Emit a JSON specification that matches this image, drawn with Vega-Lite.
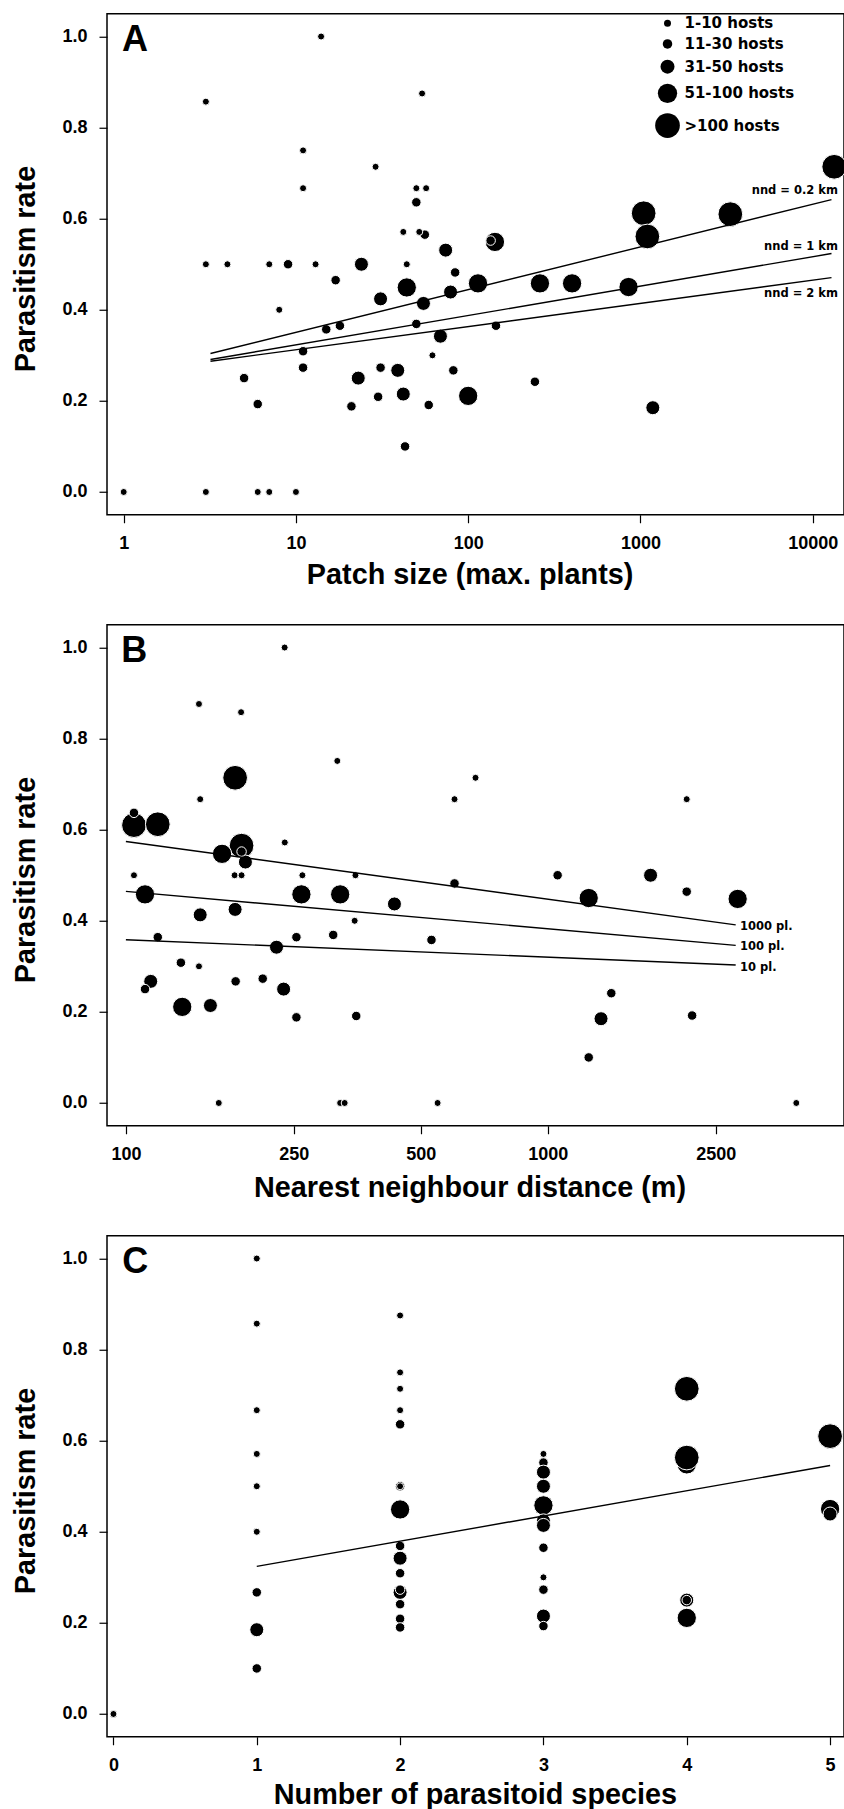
{
  "$schema": "https://vega.github.io/schema/vega-lite/v6.json",
  "background": "white",
  "padding": {"left": 10, "top": 12.75, "right": 0, "bottom": 0},
  "spacing": 110,
  "bounds": "flush",
  "config": {
    "view": {"stroke": "black", "strokeWidth": 1.5},
    "axis": {
      "domain": false, "grid": false,
      "tickColor": "black", "tickSize": 8, "tickWidth": 1.2,
      "labelFont": "Liberation Sans", "labelFontWeight": "bold", "labelFontSize": 18, "labelColor": "black", "labelPadding": 12,
      "labelOverlap": false, "labelFlush": false,
      "titleFont": "Liberation Sans", "titleFontWeight": "bold", "titleFontSize": 28.8, "titleColor": "black"
    },
    "text": {"font": "Liberation Sans", "color": "black"}
  },
  "resolve": {
    "scale": {"x": "independent", "y": "independent", "size": "independent"},
    "axis": {"x": "independent", "y": "independent"},
    "legend": {"size": "independent"}
  },
  "vconcat": [
    {
      "width": 737, "height": 501,
      "layer": [
        {
          "data": {"values": [
            {"patch": 1044, "rate": 0.612, "hosts": ">100 hosts"},
            {"patch": 1097, "rate": 0.561, "hosts": ">100 hosts"},
            {"patch": 3326, "rate": 0.61, "hosts": ">100 hosts"},
            {"patch": 13335, "rate": 0.714, "hosts": ">100 hosts"},
            {"patch": 44, "rate": 0.449, "hosts": "51-100 hosts"},
            {"patch": 100, "rate": 0.211, "hosts": "51-100 hosts"},
            {"patch": 114, "rate": 0.458, "hosts": "51-100 hosts"},
            {"patch": 143, "rate": 0.549, "hosts": "51-100 hosts"},
            {"patch": 261, "rate": 0.458, "hosts": "51-100 hosts"},
            {"patch": 401, "rate": 0.458, "hosts": "51-100 hosts"},
            {"patch": 853, "rate": 0.45, "hosts": "51-100 hosts"},
            {"patch": 23, "rate": 0.25, "hosts": "31-50 hosts"},
            {"patch": 24, "rate": 0.5, "hosts": "31-50 hosts"},
            {"patch": 31, "rate": 0.424, "hosts": "31-50 hosts"},
            {"patch": 39, "rate": 0.267, "hosts": "31-50 hosts"},
            {"patch": 42, "rate": 0.215, "hosts": "31-50 hosts"},
            {"patch": 55, "rate": 0.414, "hosts": "31-50 hosts"},
            {"patch": 69, "rate": 0.342, "hosts": "31-50 hosts"},
            {"patch": 74, "rate": 0.531, "hosts": "31-50 hosts"},
            {"patch": 79, "rate": 0.439, "hosts": "31-50 hosts"},
            {"patch": 1180, "rate": 0.185, "hosts": "31-50 hosts"},
            {"patch": 9, "rate": 0.5, "hosts": "11-30 hosts"},
            {"patch": 5, "rate": 0.25, "hosts": "11-30 hosts"},
            {"patch": 6, "rate": 0.193, "hosts": "11-30 hosts"},
            {"patch": 11, "rate": 0.309, "hosts": "11-30 hosts"},
            {"patch": 11, "rate": 0.273, "hosts": "11-30 hosts"},
            {"patch": 15, "rate": 0.357, "hosts": "11-30 hosts"},
            {"patch": 17, "rate": 0.465, "hosts": "11-30 hosts"},
            {"patch": 18, "rate": 0.365, "hosts": "11-30 hosts"},
            {"patch": 21, "rate": 0.188, "hosts": "11-30 hosts"},
            {"patch": 30, "rate": 0.209, "hosts": "11-30 hosts"},
            {"patch": 31, "rate": 0.273, "hosts": "11-30 hosts"},
            {"patch": 43, "rate": 0.1, "hosts": "11-30 hosts"},
            {"patch": 50, "rate": 0.636, "hosts": "11-30 hosts"},
            {"patch": 56, "rate": 0.565, "hosts": "11-30 hosts"},
            {"patch": 50, "rate": 0.369, "hosts": "11-30 hosts"},
            {"patch": 59, "rate": 0.191, "hosts": "11-30 hosts"},
            {"patch": 82, "rate": 0.267, "hosts": "11-30 hosts"},
            {"patch": 84, "rate": 0.482, "hosts": "11-30 hosts"},
            {"patch": 135, "rate": 0.552, "hosts": "11-30 hosts"},
            {"patch": 145, "rate": 0.365, "hosts": "11-30 hosts"},
            {"patch": 244, "rate": 0.242, "hosts": "11-30 hosts"},
            {"patch": 1, "rate": 0, "hosts": "1-10 hosts"},
            {"patch": 3, "rate": 0.857, "hosts": "1-10 hosts"},
            {"patch": 3, "rate": 0.5, "hosts": "1-10 hosts"},
            {"patch": 3, "rate": 0, "hosts": "1-10 hosts"},
            {"patch": 4, "rate": 0.5, "hosts": "1-10 hosts"},
            {"patch": 7, "rate": 0.5, "hosts": "1-10 hosts"},
            {"patch": 13, "rate": 0.5, "hosts": "1-10 hosts"},
            {"patch": 8, "rate": 0.4, "hosts": "1-10 hosts"},
            {"patch": 6, "rate": 0, "hosts": "1-10 hosts"},
            {"patch": 7, "rate": 0, "hosts": "1-10 hosts"},
            {"patch": 10, "rate": 0, "hosts": "1-10 hosts"},
            {"patch": 11, "rate": 0.75, "hosts": "1-10 hosts"},
            {"patch": 11, "rate": 0.667, "hosts": "1-10 hosts"},
            {"patch": 14, "rate": 1.0, "hosts": "1-10 hosts"},
            {"patch": 29, "rate": 0.714, "hosts": "1-10 hosts"},
            {"patch": 42, "rate": 0.571, "hosts": "1-10 hosts"},
            {"patch": 44, "rate": 0.5, "hosts": "1-10 hosts"},
            {"patch": 50, "rate": 0.667, "hosts": "1-10 hosts"},
            {"patch": 57, "rate": 0.667, "hosts": "1-10 hosts"},
            {"patch": 52, "rate": 0.571, "hosts": "1-10 hosts"},
            {"patch": 54, "rate": 0.875, "hosts": "1-10 hosts"},
            {"patch": 62, "rate": 0.3, "hosts": "1-10 hosts"}
          ]},
          "mark": {"type": "circle", "fill": "black", "stroke": "white", "strokeWidth": 1, "opacity": 1, "clip": true},
          "encoding": {
            "x": {"field": "patch", "type": "quantitative",
                  "scale": {"type": "log", "domain": [0.8, 15200], "nice": false},
                  "axis": {"title": "Patch size (max. plants)", "values": [1, 10, 100, 1000, 10000], "format": "d",
                           "titleX": 362.6, "titleY": 69, "titleBaseline": "alphabetic", "titleAlign": "center"}},
            "y": {"field": "rate", "type": "quantitative",
                  "scale": {"domain": [-0.05, 1.05], "nice": false, "zero": false},
                  "axis": {"title": "Parasitism rate", "values": [0, 0.2, 0.4, 0.6, 0.8, 1], "format": ".1f",
                           "titleX": -72.4, "titleY": 254.8, "titleAngle": 270, "titleBaseline": "alphabetic", "titleAlign": "center"}},
            "size": {"field": "hosts", "type": "ordinal",
                     "scale": {"type": "ordinal", "domain": ["1-10 hosts", "11-30 hosts", "31-50 hosts", "51-100 hosts", ">100 hosts"], "range": [49, 90, 196, 372, 610]},
                     "legend": {"orient": "none", "legendX": 547.5, "legendY": 2, "title": null, "padding": 0,
                                "labelFont": "DejaVu Sans", "labelFontWeight": "bold", "labelFontSize": 15, "labelColor": "black",
                                "labelOffset": 4, "rowPadding": 4.7, "symbolType": "circle",
                                "symbolFillColor": "black", "symbolStrokeColor": "white", "symbolStrokeWidth": 1, "symbolOpacity": 1}}
          }
        },
        {
          "data": {"values": [
            {"patch": 3.19, "rate": 0.304, "nnd": "0.2"}, {"patch": 12860, "rate": 0.642, "nnd": "0.2"},
            {"patch": 3.19, "rate": 0.291, "nnd": "1"}, {"patch": 12860, "rate": 0.5235, "nnd": "1"},
            {"patch": 3.19, "rate": 0.287, "nnd": "2"}, {"patch": 12860, "rate": 0.4706, "nnd": "2"}
          ]},
          "mark": {"type": "line", "color": "black", "strokeWidth": 1.4},
          "encoding": {
            "x": {"field": "patch", "type": "quantitative"},
            "y": {"field": "rate", "type": "quantitative"},
            "detail": {"field": "nnd", "type": "nominal"}
          }
        },
        {
          "data": {"values": [
            {"patch": 14030, "rate": 0.66, "label": "nnd = 0.2 km"},
            {"patch": 14030, "rate": 0.537, "label": "nnd = 1 km"},
            {"patch": 14030, "rate": 0.434, "label": "nnd = 2 km"}
          ]},
          "mark": {"type": "text", "align": "right", "baseline": "middle", "font": "DejaVu Sans", "fontWeight": "bold", "fontSize": 11.5, "color": "black"},
          "encoding": {
            "x": {"field": "patch", "type": "quantitative"},
            "y": {"field": "rate", "type": "quantitative"},
            "text": {"field": "label"}
          }
        },
        {
          "data": {"values": [{"patch": 0.978, "rate": 0.968, "label": "A"}]},
          "mark": {"type": "text", "align": "left", "baseline": "alphabetic", "fontSize": 36, "fontWeight": "bold", "color": "black"},
          "encoding": {
            "x": {"field": "patch", "type": "quantitative"},
            "y": {"field": "rate", "type": "quantitative"},
            "text": {"field": "label"}
          }
        }
      ]
    },
    {
      "width": 737, "height": 501,
      "layer": [
        {
          "data": {"values": [
            {"nnd": 104.5, "rate": 0.61, "hosts": ">100 hosts"},
            {"nnd": 119, "rate": 0.612, "hosts": ">100 hosts"},
            {"nnd": 181.5, "rate": 0.714, "hosts": ">100 hosts"},
            {"nnd": 188, "rate": 0.565, "hosts": ">100 hosts"},
            {"nnd": 111, "rate": 0.458, "hosts": "51-100 hosts"},
            {"nnd": 136, "rate": 0.211, "hosts": "51-100 hosts"},
            {"nnd": 169, "rate": 0.547, "hosts": "51-100 hosts"},
            {"nnd": 260.6, "rate": 0.458, "hosts": "51-100 hosts"},
            {"nnd": 322, "rate": 0.458, "hosts": "51-100 hosts"},
            {"nnd": 1250, "rate": 0.45, "hosts": "51-100 hosts"},
            {"nnd": 2818, "rate": 0.448, "hosts": "51-100 hosts"},
            {"nnd": 114.5, "rate": 0.267, "hosts": "31-50 hosts"},
            {"nnd": 150, "rate": 0.413, "hosts": "31-50 hosts"},
            {"nnd": 158.6, "rate": 0.214, "hosts": "31-50 hosts"},
            {"nnd": 181.5, "rate": 0.425, "hosts": "31-50 hosts"},
            {"nnd": 192, "rate": 0.529, "hosts": "31-50 hosts"},
            {"nnd": 227.5, "rate": 0.342, "hosts": "31-50 hosts"},
            {"nnd": 236.5, "rate": 0.25, "hosts": "31-50 hosts"},
            {"nnd": 433, "rate": 0.437, "hosts": "31-50 hosts"},
            {"nnd": 1337, "rate": 0.185, "hosts": "31-50 hosts"},
            {"nnd": 1752, "rate": 0.5, "hosts": "31-50 hosts"},
            {"nnd": 104.5, "rate": 0.637, "hosts": "11-30 hosts"},
            {"nnd": 119, "rate": 0.364, "hosts": "11-30 hosts"},
            {"nnd": 111, "rate": 0.25, "hosts": "11-30 hosts"},
            {"nnd": 135, "rate": 0.308, "hosts": "11-30 hosts"},
            {"nnd": 182, "rate": 0.267, "hosts": "11-30 hosts"},
            {"nnd": 188, "rate": 0.552, "hosts": "11-30 hosts"},
            {"nnd": 211, "rate": 0.273, "hosts": "11-30 hosts"},
            {"nnd": 253.6, "rate": 0.364, "hosts": "11-30 hosts"},
            {"nnd": 253.6, "rate": 0.188, "hosts": "11-30 hosts"},
            {"nnd": 310, "rate": 0.369, "hosts": "11-30 hosts"},
            {"nnd": 351.5, "rate": 0.191, "hosts": "11-30 hosts"},
            {"nnd": 530, "rate": 0.358, "hosts": "11-30 hosts"},
            {"nnd": 601, "rate": 0.482, "hosts": "11-30 hosts"},
            {"nnd": 1055, "rate": 0.5, "hosts": "11-30 hosts"},
            {"nnd": 1250, "rate": 0.1, "hosts": "11-30 hosts"},
            {"nnd": 1414, "rate": 0.241, "hosts": "11-30 hosts"},
            {"nnd": 2134, "rate": 0.464, "hosts": "11-30 hosts"},
            {"nnd": 2198, "rate": 0.192, "hosts": "11-30 hosts"},
            {"nnd": 104.5, "rate": 0.5, "hosts": "1-10 hosts"},
            {"nnd": 149, "rate": 0.876, "hosts": "1-10 hosts"},
            {"nnd": 150, "rate": 0.667, "hosts": "1-10 hosts"},
            {"nnd": 149, "rate": 0.3, "hosts": "1-10 hosts"},
            {"nnd": 166, "rate": 0, "hosts": "1-10 hosts"},
            {"nnd": 181, "rate": 0.5, "hosts": "1-10 hosts"},
            {"nnd": 187.5, "rate": 0.858, "hosts": "1-10 hosts"},
            {"nnd": 188, "rate": 0.5, "hosts": "1-10 hosts"},
            {"nnd": 237.8, "rate": 1.0, "hosts": "1-10 hosts"},
            {"nnd": 238, "rate": 0.572, "hosts": "1-10 hosts"},
            {"nnd": 262, "rate": 0.5, "hosts": "1-10 hosts"},
            {"nnd": 317, "rate": 0.751, "hosts": "1-10 hosts"},
            {"nnd": 322, "rate": 0, "hosts": "1-10 hosts"},
            {"nnd": 330, "rate": 0, "hosts": "1-10 hosts"},
            {"nnd": 348.5, "rate": 0.4, "hosts": "1-10 hosts"},
            {"nnd": 350, "rate": 0.5, "hosts": "1-10 hosts"},
            {"nnd": 548, "rate": 0, "hosts": "1-10 hosts"},
            {"nnd": 601, "rate": 0.667, "hosts": "1-10 hosts"},
            {"nnd": 674, "rate": 0.714, "hosts": "1-10 hosts"},
            {"nnd": 2134, "rate": 0.667, "hosts": "1-10 hosts"},
            {"nnd": 3881, "rate": 0, "hosts": "1-10 hosts"}
          ]},
          "mark": {"type": "circle", "fill": "black", "stroke": "white", "strokeWidth": 1, "opacity": 1, "clip": true},
          "encoding": {
            "x": {"field": "nnd", "type": "quantitative",
                  "scale": {"type": "log", "domain": [90.2, 5035], "nice": false},
                  "axis": {"title": "Nearest neighbour distance (m)", "values": [100, 250, 500, 1000, 2500], "format": "d",
                           "titleX": 362.5, "titleY": 70.5, "titleBaseline": "alphabetic", "titleAlign": "center"}},
            "y": {"field": "rate", "type": "quantitative",
                  "scale": {"domain": [-0.05, 1.05], "nice": false, "zero": false},
                  "axis": {"title": "Parasitism rate", "values": [0, 0.2, 0.4, 0.6, 0.8, 1], "format": ".1f",
                           "titleX": -72.4, "titleY": 254.8, "titleAngle": 270, "titleBaseline": "alphabetic", "titleAlign": "center"}},
            "size": {"field": "hosts", "type": "ordinal",
                     "scale": {"type": "ordinal", "domain": ["1-10 hosts", "11-30 hosts", "31-50 hosts", "51-100 hosts", ">100 hosts"], "range": [49, 90, 196, 372, 610]},
                     "legend": null}
          }
        },
        {
          "data": {"values": [
            {"nnd": 100, "rate": 0.574, "plants": "1000"}, {"nnd": 2788, "rate": 0.391, "plants": "1000"},
            {"nnd": 100, "rate": 0.4645, "plants": "100"}, {"nnd": 2788, "rate": 0.346, "plants": "100"},
            {"nnd": 100, "rate": 0.3585, "plants": "10"}, {"nnd": 2788, "rate": 0.303, "plants": "10"}
          ]},
          "mark": {"type": "line", "color": "black", "strokeWidth": 1.4},
          "encoding": {
            "x": {"field": "nnd", "type": "quantitative"},
            "y": {"field": "rate", "type": "quantitative"},
            "detail": {"field": "plants", "type": "nominal"}
          }
        },
        {
          "data": {"values": [
            {"nnd": 2855, "rate": 0.3855, "label": "1000 pl."},
            {"nnd": 2855, "rate": 0.3427, "label": "100 pl."},
            {"nnd": 2855, "rate": 0.2964, "label": "10 pl."}
          ]},
          "mark": {"type": "text", "align": "left", "baseline": "middle", "font": "DejaVu Sans", "fontWeight": "bold", "fontSize": 11.5, "color": "black"},
          "encoding": {
            "x": {"field": "nnd", "type": "quantitative"},
            "y": {"field": "rate", "type": "quantitative"},
            "text": {"field": "label"}
          }
        },
        {
          "data": {"values": [{"nnd": 97.5, "rate": 0.968, "label": "B"}]},
          "mark": {"type": "text", "align": "left", "baseline": "alphabetic", "fontSize": 36, "fontWeight": "bold", "color": "black"},
          "encoding": {
            "x": {"field": "nnd", "type": "quantitative"},
            "y": {"field": "rate", "type": "quantitative"},
            "text": {"field": "label"}
          }
        }
      ]
    },
    {
      "width": 737, "height": 501,
      "layer": [
        {
          "data": {"values": [
            {"species": 0, "rate": 0, "hosts": "1-10 hosts"},
            {"species": 0, "rate": 0, "hosts": "1-10 hosts"},
            {"species": 0, "rate": 0, "hosts": "1-10 hosts"},
            {"species": 0, "rate": 0, "hosts": "1-10 hosts"},
            {"species": 0, "rate": 0, "hosts": "1-10 hosts"},
            {"species": 1, "rate": 1.0, "hosts": "1-10 hosts"},
            {"species": 1, "rate": 0.857, "hosts": "1-10 hosts"},
            {"species": 1, "rate": 0.667, "hosts": "1-10 hosts"},
            {"species": 1, "rate": 0.571, "hosts": "1-10 hosts"},
            {"species": 1, "rate": 0.5, "hosts": "1-10 hosts"},
            {"species": 1, "rate": 0.4, "hosts": "1-10 hosts"},
            {"species": 1, "rate": 0.267, "hosts": "11-30 hosts"},
            {"species": 1, "rate": 0.185, "hosts": "31-50 hosts"},
            {"species": 1, "rate": 0.1, "hosts": "11-30 hosts"},
            {"species": 2, "rate": 0.875, "hosts": "1-10 hosts"},
            {"species": 2, "rate": 0.75, "hosts": "1-10 hosts"},
            {"species": 2, "rate": 0.714, "hosts": "1-10 hosts"},
            {"species": 2, "rate": 0.667, "hosts": "1-10 hosts"},
            {"species": 2, "rate": 0.636, "hosts": "11-30 hosts"},
            {"species": 2, "rate": 0.5, "hosts": "11-30 hosts"},
            {"species": 2, "rate": 0.5, "hosts": "1-10 hosts"},
            {"species": 2, "rate": 0.449, "hosts": "51-100 hosts"},
            {"species": 2, "rate": 0.369, "hosts": "11-30 hosts"},
            {"species": 2, "rate": 0.342, "hosts": "31-50 hosts"},
            {"species": 2, "rate": 0.309, "hosts": "11-30 hosts"},
            {"species": 2, "rate": 0.267, "hosts": "31-50 hosts"},
            {"species": 2, "rate": 0.273, "hosts": "11-30 hosts"},
            {"species": 2, "rate": 0.241, "hosts": "11-30 hosts"},
            {"species": 2, "rate": 0.209, "hosts": "11-30 hosts"},
            {"species": 2, "rate": 0.19, "hosts": "11-30 hosts"},
            {"species": 3, "rate": 0.571, "hosts": "1-10 hosts"},
            {"species": 3, "rate": 0.552, "hosts": "11-30 hosts"},
            {"species": 3, "rate": 0.531, "hosts": "31-50 hosts"},
            {"species": 3, "rate": 0.5, "hosts": "31-50 hosts"},
            {"species": 3, "rate": 0.458, "hosts": "51-100 hosts"},
            {"species": 3, "rate": 0.458, "hosts": "51-100 hosts"},
            {"species": 3, "rate": 0.458, "hosts": "51-100 hosts"},
            {"species": 3, "rate": 0.424, "hosts": "31-50 hosts"},
            {"species": 3, "rate": 0.414, "hosts": "31-50 hosts"},
            {"species": 3, "rate": 0.365, "hosts": "11-30 hosts"},
            {"species": 3, "rate": 0.3, "hosts": "1-10 hosts"},
            {"species": 3, "rate": 0.273, "hosts": "11-30 hosts"},
            {"species": 3, "rate": 0.215, "hosts": "31-50 hosts"},
            {"species": 3, "rate": 0.193, "hosts": "11-30 hosts"},
            {"species": 4, "rate": 0.714, "hosts": ">100 hosts"},
            {"species": 4, "rate": 0.548, "hosts": "51-100 hosts"},
            {"species": 4, "rate": 0.563, "hosts": ">100 hosts"},
            {"species": 4, "rate": 0.25, "hosts": "31-50 hosts"},
            {"species": 4, "rate": 0.25, "hosts": "11-30 hosts"},
            {"species": 4, "rate": 0.211, "hosts": "51-100 hosts"},
            {"species": 5, "rate": 0.61, "hosts": ">100 hosts"},
            {"species": 5, "rate": 0.45, "hosts": "51-100 hosts"},
            {"species": 5, "rate": 0.439, "hosts": "31-50 hosts"}
          ]},
          "mark": {"type": "circle", "fill": "black", "stroke": "white", "strokeWidth": 1, "opacity": 1, "clip": true},
          "encoding": {
            "x": {"field": "species", "type": "quantitative",
                  "scale": {"domain": [-0.045, 5.097], "nice": false, "zero": false},
                  "axis": {"title": "Number of parasitoid species", "values": [0, 1, 2, 3, 4, 5], "format": "d",
                           "titleX": 367.9, "titleY": 66.7, "titleBaseline": "alphabetic", "titleAlign": "center"}},
            "y": {"field": "rate", "type": "quantitative",
                  "scale": {"domain": [-0.05, 1.05], "nice": false, "zero": false},
                  "axis": {"title": "Parasitism rate", "values": [0, 0.2, 0.4, 0.6, 0.8, 1], "format": ".1f",
                           "titleX": -72.4, "titleY": 254.8, "titleAngle": 270, "titleBaseline": "alphabetic", "titleAlign": "center"}},
            "size": {"field": "hosts", "type": "ordinal",
                     "scale": {"type": "ordinal", "domain": ["1-10 hosts", "11-30 hosts", "31-50 hosts", "51-100 hosts", ">100 hosts"], "range": [49, 90, 196, 372, 610]},
                     "legend": null}
          }
        },
        {
          "data": {"values": [
            {"species": 1, "rate": 0.324}, {"species": 5, "rate": 0.5456}
          ]},
          "mark": {"type": "line", "color": "black", "strokeWidth": 1.4},
          "encoding": {
            "x": {"field": "species", "type": "quantitative"},
            "y": {"field": "rate", "type": "quantitative"}
          }
        },
        {
          "data": {"values": [{"species": 0.061, "rate": 0.969, "label": "C"}]},
          "mark": {"type": "text", "align": "left", "baseline": "alphabetic", "fontSize": 36, "fontWeight": "bold", "color": "black"},
          "encoding": {
            "x": {"field": "species", "type": "quantitative"},
            "y": {"field": "rate", "type": "quantitative"},
            "text": {"field": "label"}
          }
        }
      ]
    }
  ]
}
